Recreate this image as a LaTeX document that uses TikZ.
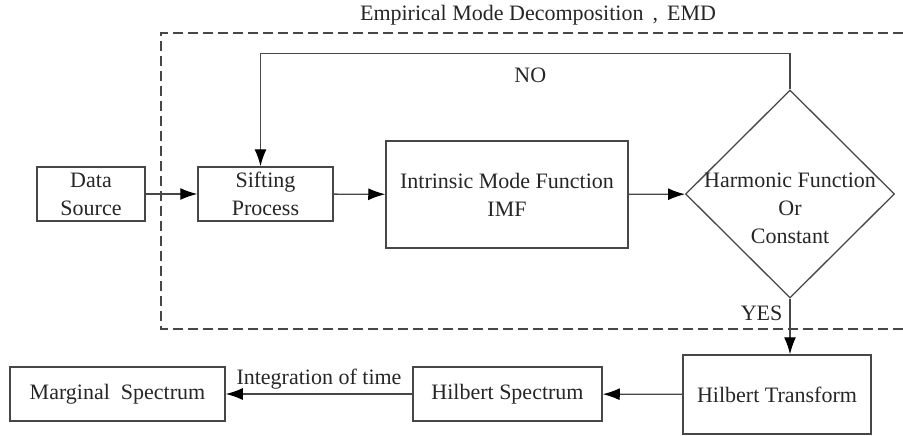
\documentclass[tikz,border=0pt]{standalone}
\usepackage{fontspec}
\setmainfont{Liberation Serif}
\usepackage{xcolor}
\usetikzlibrary{shapes.geometric,arrows.meta}
\colorlet{linecol}{black!72}
\colorlet{textcol}{black!85}
\tikzset{>={Latex[length=17pt,width=12pt,color=black]}}
\tikzstyle{block}=[draw=linecol,line width=1.5pt,text=textcol,align=center,
  inner sep=0,font=\fontsize{22}{28}\selectfont]
\tikzstyle{decision}=[draw=linecol,line width=1.3pt,diamond,inner sep=0,
  minimum width=209pt,minimum height=208pt]
\tikzstyle{flow}=[->,line width=1.3pt,linecol]
\tikzstyle{emd frame}=[line width=1.3pt,linecol,dash pattern=on 10pt off 5pt]
\tikzstyle{tag}=[text=textcol,inner sep=4pt,font=\fontsize{22}{28}\selectfont]

\begin{document}
\begin{tikzpicture}[x=1pt,y=-1pt]
  \useasboundingbox (0,0) rectangle (903,436);

  % EMD FRAME
  \draw[emd frame] (903,33) -- (161,33) -- (161,329) -- (903,329);
  \node[tag] (title) at (538,15)
    {Empirical Mode Decomposition\hspace{9pt},\hspace{9pt}EMD};

  % BLOCKS
  \node[block,minimum width=108pt,minimum height=54pt] (src) at (91,194)
    {Data\\Source};
  \node[block,minimum width=135pt,minimum height=54pt] (sift) at (265.5,194)
    {Sifting\\Process};
  \node[block,minimum width=242pt,minimum height=107pt] (imf) at (507,194.5)
    {Intrinsic Mode Function\\IMF};
  \node[decision,label={[block,draw=none,yshift=-14pt]center:%
    Harmonic Function\\Or\\Constant}] (test) at (790,194) {};
  \node[block,minimum width=188pt,minimum height=79pt] (ht) at (777,394.5)
    {Hilbert Transform};
  \node[block,minimum width=189pt,minimum height=54pt] (hs) at (507.5,394)
    {Hilbert Spectrum};
  \node[block,minimum width=215pt,minimum height=54pt] (ms) at (117.5,394)
    {Marginal\ \ Spectrum};

  % ARROWS
  \draw[flow] (src) -- (sift);
  \draw[flow] (sift) -- (imf);
  \draw[flow] (imf) -- (test);
  \draw[flow] (test.north) -- ++(0,-36) -| ([xshift=-5pt]sift.north)
    node[tag,pos=0.25,below=10pt,xshift=5pt] {NO};
  \draw[flow] (test.south) -- (test.south |- ht.north)
    node[tag,pos=0.26,left=3pt] {YES};
  \draw[flow] (ht) -- (hs);
  \draw[flow] (hs) -- (ms) node[tag,midway,above] {Integration of time};

\end{tikzpicture}
\end{document}
